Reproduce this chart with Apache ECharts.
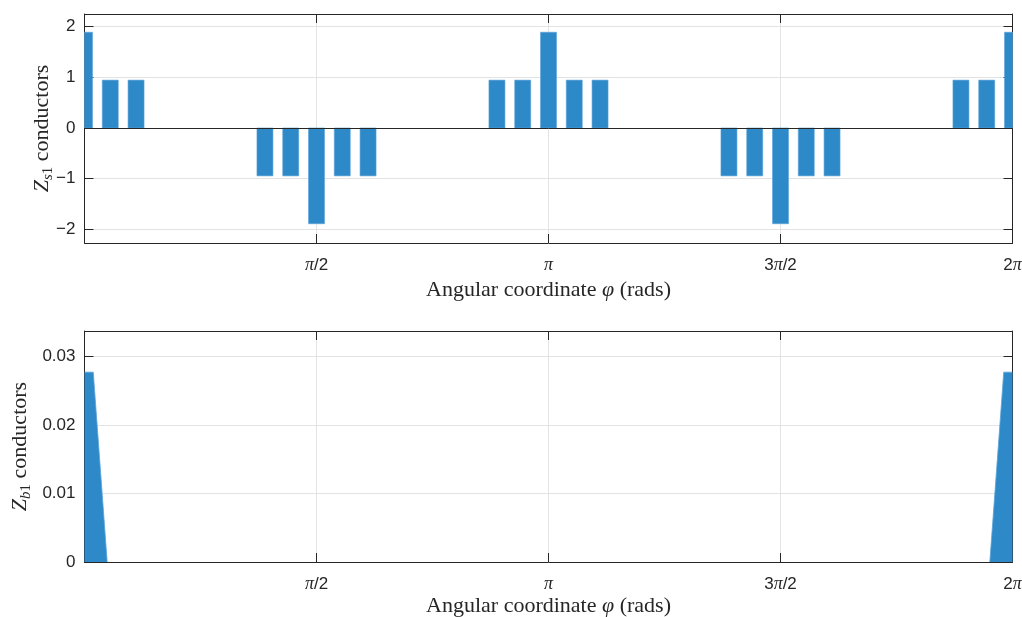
<!DOCTYPE html>
<html>
<head>
<meta charset="utf-8">
<title>Conductor distribution</title>
<script src="https://cdn.jsdelivr.net/npm/echarts@6/dist/echarts.min.js"></script>
<style>
  html, body { margin: 0; padding: 0; background: #ffffff; }
  #chart { width: 1022px; height: 617px; }
</style>
</head>
<body>
<div id="chart"></div>
<script>
// Angular positions of the slots, in degrees (0 .. 360)
const slotAngleDeg = [0, 10, 20, 30, 40, 50, 60, 70, 80, 90, 100, 110, 120, 130, 140, 150, 160, 170, 180,
                      190, 200, 210, 220, 230, 240, 250, 260, 270, 280, 290, 300, 310, 320, 330, 340, 350, 360];
// Stator conductors per slot
const zs1 = [1.89, 0.945, 0.945, 0, 0, 0, 0, -0.945, -0.945, -1.89, -0.945, -0.945, 0, 0, 0, 0, 0.945, 0.945, 1.89,
             0.945, 0.945, 0, 0, 0, 0, -0.945, -0.945, -1.89, -0.945, -0.945, 0, 0, 0, 0, 0.945, 0.945, 1.89];

// Bar (rotor) conductor profile near 0 and near 2π
const zb1LeftDeg = [0, 3.4, 8.8];
const zb1Left = [0.0277, 0.0277, 0];
const zb1RightDeg = [351.2, 356.6, 360];
const zb1Right = [0, 0.0277, 0.0277];

// Tick values and labels
const xTickDeg = [90, 180, 270, 360];
const xTickText = ['{p|π}/2', '{p|π}', '3{p|π}/2', '2{p|π}'];
const yTicksTop = [-2, -1, 0, 1, 2];
const yTicksBottom = [0, 0.01, 0.02, 0.03];

const INK = '#262626';
const GRIDC = '#e3e3e3';
const BLUE = '#2e89c9';
const EDGE = '#5aa3d8';
const SANS = 'Liberation Sans, Arial, Helvetica, sans-serif';
const SERIF = 'Liberation Serif, Times New Roman, serif';
const BAR_PX = 16;

const pair = (xs, ys) => xs.map((x, i) => [x, ys[i]]);

const xLabelRich = {
  p: { fontFamily: SERIF, fontStyle: 'italic', fontSize: 18, color: INK }
};

function xAxes(gridIndex, nameGap) {
  const common = {
    type: 'value', gridIndex: gridIndex, min: 0, max: 360, interval: 90,
    axisLine: { show: true, onZero: false, lineStyle: { color: INK, width: 1 } },
    axisTick: { show: true, inside: true, length: 9, lineStyle: { color: INK } }
  };
  return [
    Object.assign({}, common, {
      position: 'bottom',
      splitLine: { show: true, lineStyle: { color: GRIDC, width: 1 } },
      axisLabel: {
        show: true, margin: 13, color: INK, fontFamily: SANS, fontSize: 17,
        formatter: v => { const i = xTickDeg.indexOf(v); return i >= 0 ? xTickText[i] : ''; },
        rich: xLabelRich
      },
      name: 'Angular coordinate {phi|φ} (rads)',
      nameLocation: 'middle', nameGap: nameGap, nameMoveOverlap: false,
      nameTextStyle: {
        fontFamily: SERIF, fontSize: 22, color: INK,
        rich: { phi: { fontFamily: SERIF, fontStyle: 'italic', fontSize: 22, color: INK } }
      }
    }),
    Object.assign({}, common, {
      position: 'top',
      splitLine: { show: false },
      axisLabel: { show: false }
    })
  ];
}

function yAxes(gridIndex, min, max, ticks, fmt, subText, nameGap) {
  const common = {
    type: 'value', gridIndex: gridIndex, min: min, max: max,
    axisLine: { show: true, onZero: false, lineStyle: { color: INK, width: 1 } },
    axisTick: { show: true, inside: true, length: 9, customValues: ticks, lineStyle: { color: INK } }
  };
  return [
    Object.assign({}, common, {
      position: 'left',
      splitLine: { show: true, lineStyle: { color: GRIDC, width: 1 } },
      axisLabel: {
        show: true, margin: 9, color: INK, fontFamily: SANS, fontSize: 17,
        customValues: ticks, formatter: fmt
      },
      name: '{z|Z}{s|' + subText + '}{one|1}{t| conductors}',
      nameLocation: 'middle', nameGap: nameGap, nameRotate: 90, nameMoveOverlap: false,
      nameTextStyle: {
        color: INK,
        rich: {
          z: { fontFamily: SERIF, fontStyle: 'italic', fontSize: 22, lineHeight: 26, color: INK },
          s: { fontFamily: SERIF, fontStyle: 'italic', fontSize: 15, lineHeight: 16, verticalAlign: 'bottom', color: INK },
          one: { fontFamily: SERIF, fontSize: 15, lineHeight: 16, verticalAlign: 'bottom', color: INK },
          t: { fontFamily: SERIF, fontSize: 22, lineHeight: 26, color: INK }
        }
      }
    }),
    Object.assign({}, common, {
      position: 'right',
      splitLine: { show: false },
      axisLabel: { show: false }
    })
  ];
}

// Baseline at zero for the stator plot, drawn above the bars
const baselineAxis = {
  type: 'value', gridIndex: 0, min: 0, max: 360, z: 10,
  axisLine: { show: true, onZero: true, onZeroAxisIndex: 0, lineStyle: { color: INK, width: 1 } },
  axisTick: { show: false }, axisLabel: { show: false }, splitLine: { show: false }
};

// Slot bars, clipped to the plot area
function renderSlotBar(params, api) {
  const v = api.value(1);
  if (!v) return null;
  const base = api.coord([api.value(0), 0]);
  const top = api.coord([api.value(0), v]);
  const rect = {
    x: base[0] - BAR_PX / 2,
    y: Math.min(base[1], top[1]),
    width: BAR_PX,
    height: Math.abs(top[1] - base[1])
  };
  const cs = params.coordSys;
  const clipped = echarts.graphic.clipRectByRect(rect, { x: cs.x, y: cs.y, width: cs.width, height: cs.height });
  if (!clipped) return null;
  return {
    type: 'rect',
    shape: clipped,
    style: { fill: BLUE, stroke: EDGE, lineWidth: 0.6 }
  };
}

const chart = echarts.init(document.getElementById('chart'), null, { renderer: 'canvas' });

chart.setOption({
  animation: false,
  backgroundColor: '#ffffff',
  grid: [
    { left: 84.5, right: 9.5, top: 14, height: 229, outerBoundsMode: 'none' },
    { left: 84.5, right: 9.5, top: 331, height: 231, outerBoundsMode: 'none' }
  ],
  xAxis: xAxes(0, 36).concat(xAxes(1, 33)).concat([baselineAxis]),
  yAxis: yAxes(0, -2.27, 2.25, yTicksTop, v => (v < 0 ? '\u2212' + Math.abs(v) : String(v)), 's', 29)
    .concat(yAxes(1, 0, 0.0337, yTicksBottom, v => String(v), 'b', 51)),
  series: [
    {
      type: 'custom', xAxisIndex: 0, yAxisIndex: 0,
      data: pair(slotAngleDeg, zs1),
      encode: { x: 0, y: 1 },
      renderItem: renderSlotBar,
      z: 3
    },
    {
      type: 'line', xAxisIndex: 2, yAxisIndex: 2,
      data: pair(zb1LeftDeg, zb1Left),
      symbol: 'none', lineStyle: { width: 0.8, color: EDGE },
      areaStyle: { color: BLUE, opacity: 1 }
    },
    {
      type: 'line', xAxisIndex: 2, yAxisIndex: 2,
      data: pair(zb1RightDeg, zb1Right),
      symbol: 'none', lineStyle: { width: 0.8, color: EDGE },
      areaStyle: { color: BLUE, opacity: 1 }
    }
  ]
});
</script>
</body>
</html>
